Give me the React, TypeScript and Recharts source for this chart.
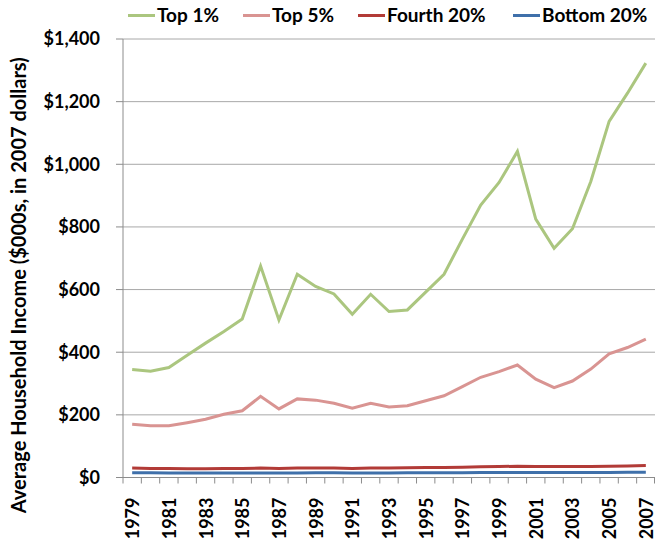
import React from 'react';
import { LineChart, Line, XAxis, YAxis, CartesianGrid, Legend, Label } from 'recharts';

const years = ['1979','1980','1981','1982','1983','1984','1985','1986','1987','1988','1989','1990','1991','1992','1993','1994','1995','1996','1997','1998','1999','2000','2001','2002','2003','2004','2005','2006','2007'];
const top1 = [345, 339, 351, 390, 429, 466, 506, 675, 503, 649, 610, 586, 521, 585, 530, 535, 592, 649, 761, 870, 942, 1041, 825, 732, 794, 945, 1137, 1227, 1323];
const top5 = [170, 165, 165, 175, 186, 202, 213, 259, 219, 251, 247, 237, 221, 237, 225, 229, 245, 261, 290, 320, 338, 359, 314, 287, 308, 346, 395, 415, 442];
const fourth = [30, 29, 29, 28, 28, 29, 29, 30, 29, 30, 30, 30, 29, 30, 30, 31, 32, 32, 33, 34, 35, 36, 35, 35, 35, 35, 36, 37, 38];
const bottom = [15, 15, 14, 14, 14, 14, 14, 14, 14, 14, 15, 15, 14, 14, 14, 15, 15, 15, 15, 16, 16, 16, 16, 16, 16, 16, 16, 17, 17];
const yTicks = [0, 200, 400, 600, 800, 1000, 1200, 1400];

const series = [
  { key: 'top1', name: 'Top 1%', color: '#abc67f', values: top1 },
  { key: 'top5', name: 'Top 5%', color: '#d99492', values: top5 },
  { key: 'fourth', name: 'Fourth 20%', color: '#b23b37', values: fourth },
  { key: 'bottom', name: 'Bottom 20%', color: '#3f70aa', values: bottom },
];

const data = years.map((y, i) => {
  const row: any = { year: y };
  series.forEach((s) => { row[s.key] = s.values[i]; });
  return row;
});

const FONT = 'Lato, "DejaVu Sans", sans-serif';
const PLOT_LEFT = 123;
const CHART_W = 655;
const BAND = (CHART_W - PLOT_LEFT) / years.length;
const legendLefts = [128, 243, 358, 513];

const XTick = (props: any) => {
  const { x, y, index, payload } = props;
  const half = BAND / 2;
  return (
    <g>
      <line x1={x - half} x2={x - half} y1={y} y2={y + 6} stroke="#8c8c8c" strokeWidth={1} />
      {index === years.length - 1 && (
        <line x1={x + half - 0.5} x2={x + half - 0.5} y1={y} y2={y + 6} stroke="#8c8c8c" strokeWidth={1} />
      )}
      {index % 2 === 0 && (
        <text
          transform={`translate(${x + 7}, ${y + 20}) rotate(-90)`}
          textAnchor="end"
          fontFamily={FONT}
          fontWeight={700}
          fontSize={18}
          fill="#000"
        >
          {payload.value}
        </text>
      )}
    </g>
  );
};

const LegendContent = () => (
  <div style={{ position: 'relative', width: CHART_W, height: 39 }}>
    {series.map((s, i) => (
      <div
        key={s.key}
        style={{
          position: 'absolute',
          left: legendLefts[i],
          top: 3,
          display: 'flex',
          alignItems: 'center',
          fontFamily: FONT,
          fontWeight: 700,
          fontSize: 19,
          color: '#000',
          lineHeight: '24px',
          whiteSpace: 'nowrap',
        }}
      >
        <span style={{ display: 'inline-block', width: 27, height: 3, background: s.color, marginRight: 2 }} />
        <span>{s.name}</span>
      </div>
    ))}
  </div>
);

const YLabel = (props: any) => {
  const vb = props.viewBox || { x: 0, y: 39, width: 123, height: 438 };
  const cx = vb.x + 18;
  const cy = vb.y + vb.height / 2 + 27;
  return (
    <text
      transform={`translate(${cx}, ${cy}) rotate(-90)`}
      textAnchor="middle"
      dominantBaseline="central"
      fontFamily={FONT}
      fontWeight={700}
      fontSize={20}
      fill="#000"
    >
      Average Household Income ($000s, in 2007 dollars)
    </text>
  );
};

export default function App() {
  return (
    <div style={{ position: 'absolute', left: 0, top: 0, width: 655, height: 548, background: '#fff' }}>
      <LineChart width={655} height={548} data={data} margin={{ top: 0, right: 0, left: 0, bottom: 0 }}>
        <Legend verticalAlign="top" align="left" content={<LegendContent />} wrapperStyle={{ left: 0, top: 0, width: 655, height: 39 }} />
        <CartesianGrid vertical={false} stroke="#a8a8a8" strokeWidth={1} />
        <XAxis
          dataKey="year"
          scale="band"
          interval={0}
          tickLine={false}
          tickSize={0}
          tickMargin={0}
          height={70.5}
          axisLine={{ stroke: '#8c8c8c', strokeWidth: 1 }}
          tick={<XTick />}
        />
        <YAxis
          width={123}
          domain={[0, 1400]}
          ticks={yTicks}
          interval={0}
          tickSize={7}
          tickMargin={16}
          tickFormatter={(v: number) => '$' + v.toLocaleString('en-US')}
          tick={{ fontFamily: FONT, fontWeight: 700, fontSize: 18, fill: '#000' }}
          tickLine={{ stroke: '#8c8c8c' }}
          axisLine={{ stroke: '#8c8c8c', strokeWidth: 1 }}
        >
          <Label content={<YLabel />} />
        </YAxis>
        {series.map((s) => (
          <Line
            key={s.key}
            type="linear"
            dataKey={s.key}
            name={s.name}
            stroke={s.color}
            strokeWidth={3}
            dot={false}
            activeDot={false}
            isAnimationActive={false}
          />
        ))}
      </LineChart>
    </div>
  );
}
